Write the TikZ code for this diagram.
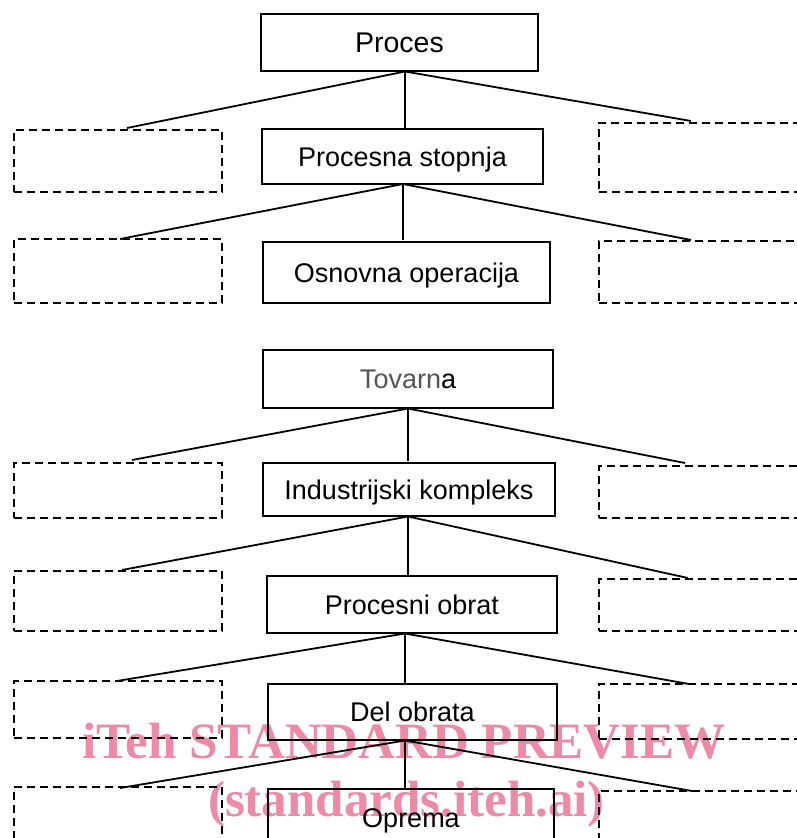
\documentclass[tikz,border=0pt]{standalone}
\usepackage{fontspec}
\setmainfont{Liberation Sans}
\newfontfamily\wmfont{Liberation Serif}
\definecolor{wmpink}{RGB}{236,138,168}
\definecolor{tgray}{RGB}{85,85,85}
\begin{document}
\begin{tikzpicture}[x=1pt,y=-1pt,
  solidbox/.style={draw, line width=1.6pt, inner sep=0pt, text height=19.3pt, text depth=0pt,
    font=\fontsize{27pt}{27pt}\selectfont},
  dashbox/.style={draw, dash pattern=on 8pt off 5pt, line width=1.4pt, inner sep=0pt},
  conn/.style={line width=1.8pt},
  vconn/.style={line width=1.4pt},
  wm/.style={text=wmpink, font=\wmfont\bfseries\fontsize{51pt}{51pt}\selectfont, inner sep=0pt, anchor=base}]
\useasboundingbox (0,0) rectangle (797,838);
\clip (0,0) rectangle (797,838);

% watermark (under the drawing)
\node[wm] (wm1) at (404,758) {iTeh STANDARD PREVIEW};
\node[wm] (wm2) at (406.5,816) {(standards.iteh.ai)};

% solid boxes
\node[solidbox, minimum width=277pt, minimum height=57pt, text height=20.5pt,
  font=\fontsize{28.5pt}{28.5pt}\selectfont] (P1) at (399.5,42.5) {Proces};
\node[solidbox, minimum width=281pt, minimum height=55pt] (P2) at (402.5,156.5) {Procesna stopnja};
\node[solidbox, minimum width=287pt, minimum height=61pt] (P3) at (406.5,272.5) {Osnovna operacija};
\node[solidbox, minimum width=290pt, minimum height=58pt] (T1) at (408,379) {{\color{tgray}Tovarn}a};
\node[solidbox, minimum width=292pt, minimum height=53pt] (T2) at (409,489.5) {Industrijski kompleks};
\node[solidbox, minimum width=290pt, minimum height=57pt] (T3) at (412,604.5) {Procesni obrat};
\node[solidbox, minimum width=289pt, minimum height=56pt] (T4) at (412.5,712) {Del obrata};
\node[solidbox, minimum width=286pt, minimum height=57pt] (T5) at (411,817.5) {Oprema};

% dashed boxes left
\node[dashbox, minimum width=208pt, minimum height=62pt] (L1) at (118,161) {};
\node[dashbox, minimum width=208pt, minimum height=64pt] (L2) at (118,271) {};
\node[dashbox, minimum width=208pt, minimum height=55pt] (L3) at (118,490.5) {};
\node[dashbox, minimum width=208pt, minimum height=60pt] (L4) at (118,601) {};
\node[dashbox, minimum width=208pt, minimum height=57pt] (L5) at (118,709.5) {};
\node[dashbox, minimum width=208pt, minimum height=60pt] (L6) at (118,817) {};
% dashed boxes right
\node[dashbox, minimum width=216pt, minimum height=69pt] (R1) at (707,157.5) {};
\node[dashbox, minimum width=216pt, minimum height=62pt] (R2) at (707,272) {};
\node[dashbox, minimum width=216pt, minimum height=52pt] (R3) at (707,492) {};
\node[dashbox, minimum width=216pt, minimum height=52pt] (R4) at (707,605) {};
\node[dashbox, minimum width=216pt, minimum height=55pt] (R5) at (707,711.5) {};
\node[dashbox, minimum width=216pt, minimum height=59pt] (R6) at (707,820.5) {};

% connector points
\coordinate (p1s) at (405,71.5);
\coordinate (l1t) at (127,128);
\coordinate (p2t) at (405,129);
\coordinate (r1t) at (691,121);
\coordinate (p2s) at (403,184);
\coordinate (l2t) at (120,239);
\coordinate (p3t) at (403,240);
\coordinate (r2t) at (691,240);
\coordinate (t1s) at (408,408.5);
\coordinate (l3t) at (132,460);
\coordinate (t2t) at (408,461);
\coordinate (r3t) at (685,463);
\coordinate (t2s) at (408,516.5);
\coordinate (l4t) at (122,570);
\coordinate (t3t) at (408,576);
\coordinate (r4t) at (688,578);
\coordinate (t3s) at (405,633.5);
\coordinate (l5t) at (117,681);
\coordinate (t4t) at (405,684);
\coordinate (r5t) at (689,684);
\coordinate (t4s) at (405,740.5);
\coordinate (l6t) at (120,788);
\coordinate (t5t) at (405,789);
\coordinate (r6t) at (692,791);

\draw[conn] (p1s) -- (l1t); \draw[vconn] (p1s) -- (p2t); \draw[conn] (p1s) -- (r1t);
\draw[conn] (p2s) -- (l2t); \draw[vconn] (p2s) -- (p3t); \draw[conn] (p2s) -- (r2t);
\draw[conn] (t1s) -- (l3t); \draw[vconn] (t1s) -- (t2t); \draw[conn] (t1s) -- (r3t);
\draw[conn] (t2s) -- (l4t); \draw[vconn] (t2s) -- (t3t); \draw[conn] (t2s) -- (r4t);
\draw[conn] (t3s) -- (l5t); \draw[vconn] (t3s) -- (t4t); \draw[conn] (t3s) -- (r5t);
\draw[conn] (t4s) -- (l6t); \draw[vconn] (t4s) -- (t5t); \draw[conn] (t4s) -- (r6t);
\end{tikzpicture}
\end{document}
